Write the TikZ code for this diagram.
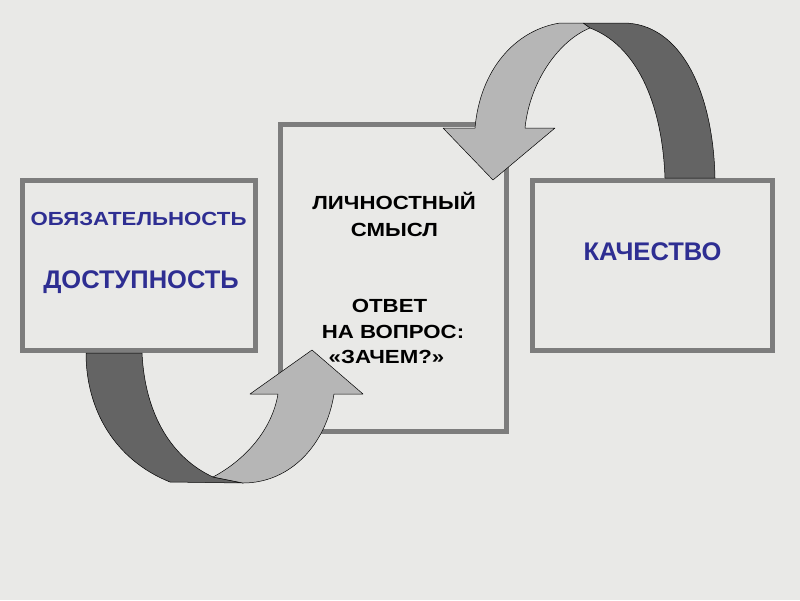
\documentclass[tikz,border=0pt]{standalone}
\usepackage{fontspec}
\setmainfont{Liberation Sans}
\newfontfamily\widefont[FakeStretch=1.17]{Liberation Sans}
\definecolor{bgc}{RGB}{233,233,231}
\definecolor{boxc}{RGB}{125,125,125}
\definecolor{bluet}{RGB}{46,46,146}
\definecolor{darkband}{RGB}{100,100,100}
\definecolor{lightband}{RGB}{182,182,182}
\begin{document}
\begin{tikzpicture}[x=1pt,y=-1pt,
  panel/.style={draw=boxc,line width=5pt,rectangle,inner sep=0pt},
  ribbondark/.style={fill=darkband,draw=black,line width=0.5pt,line join=round},
  ribbonlight/.style={fill=lightband,draw=black,line width=0.5pt,line join=round},
  bluesmall/.style={text=bluet,font=\widefont\bfseries\fontsize{19}{22}\selectfont,anchor=base},
  bluebig/.style={text=bluet,font=\bfseries\fontsize{25.5}{30}\selectfont,anchor=base},
  blacktxt/.style={text=black,font=\widefont\bfseries\fontsize{19}{22}\selectfont,anchor=base}]
\fill[bgc] (0,0) rectangle (800,600);
\useasboundingbox (0,0) rectangle (800,600);
% boxes
\node[panel,minimum width=233pt,minimum height=170pt] (left) at (139,265.5) {};
\node[panel,minimum width=226pt,minimum height=307pt] (mid) at (393.5,278) {};
\node[panel,minimum width=240pt,minimum height=170pt] (right) at (652.5,265.5) {};
% lower ribbon arrow
\path[ribbondark] (86,353) -- (142,353) .. controls (145,415) and (172,458) .. (213,477) -- (243,483) -- (170,482) .. controls (115,460) and (86,410) .. (86,353) -- cycle;
\path[ribbonlight] (213,477) .. controls (245,460) and (272,430) .. (278,394) -- (250,394) -- (312,350) -- (363,394) -- (334,394) .. controls (326,445) and (290,483) .. (243,483) -- cycle;
% upper ribbon arrow
\path[ribbondark] (590,28) -- (583,23) -- (623,23) .. controls (680,23) and (713,90) .. (715,178) -- (665,178) .. controls (662,100) and (635,45) .. (590,28) -- cycle;
\path[ribbonlight] (590,28) .. controls (560,40) and (530,80) .. (525,128) -- (555,128) -- (493,180) -- (443,128) -- (475,128) .. controls (480,70) and (515,30) .. (560,23) -- (583,23) -- cycle;
% texts
\node[bluesmall] (t1) at (138.5,225) {ОБЯЗАТЕЛЬНОСТЬ};
\node[bluebig] (t2) at (141,288) {ДОСТУПНОСТЬ};
\node[blacktxt] (t3a) at (394,209) {ЛИЧНОСТНЫЙ};
\node[blacktxt] (t3b) at (394.5,236) {СМЫСЛ};
\node[blacktxt] (t4a) at (389.5,312) {ОТВЕТ};
\node[blacktxt] (t4b) at (393,338) {НА ВОПРОС:};
\node[blacktxt] (t4c) at (386.5,363) {«ЗАЧЕМ?»};
\node[bluebig] (t5) at (652.5,260) {КАЧЕСТВО};
\end{tikzpicture}
\end{document}
